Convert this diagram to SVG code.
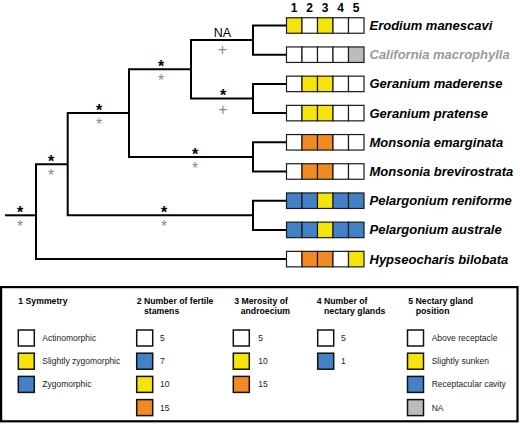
<svg xmlns="http://www.w3.org/2000/svg" width="520" height="424" viewBox="0 0 520 424">
<style>
.br{fill:none;stroke:#000;stroke-width:2;stroke-linejoin:miter}
.bx{stroke:#1a1a1a;stroke-width:1.2}
.W{fill:#fff}.Y{fill:#f4e40a}.B{fill:#4281c6}.O{fill:#f08a22}.G{fill:#bcbcbc}
.sw{stroke:#111;stroke-width:1.5}
.sp{font-family:"Liberation Sans",Arial,sans-serif;font-size:13px;font-weight:bold;font-style:italic;fill:#000}
.hd{font-family:"Liberation Sans",Arial,sans-serif;font-size:12px;font-weight:bold;text-anchor:middle}
.sb{font-family:"Liberation Sans",Arial,sans-serif;font-size:16px;font-weight:bold;text-anchor:middle;fill:#000}
.sg{font-family:"Liberation Sans",Arial,sans-serif;font-size:16px;text-anchor:middle;fill:#8c8c8c}
.na{font-family:"Liberation Sans",Arial,sans-serif;font-size:12.5px;text-anchor:middle;fill:#000}
.lt{font-family:"Liberation Sans",Arial,sans-serif;font-size:8.7px;font-weight:bold;fill:#000}
.ll{font-family:"Liberation Sans",Arial,sans-serif;font-size:8.5px;fill:#222}
</style>
<g id="connectors">
<path class="br" d="M5,215.3 H36"/>
<path class="br" d="M67.7,164.2 H36 V259.1 H286.5"/>
<path class="br" d="M129,113.1 H67.7 V215.3 H253"/>
<path class="br" d="M191,69.3 H129 V156.9 H253"/>
<path class="br" d="M253,40.1 H191 V98.5 H253"/>
<path class="br" d="M286.5,25.5 H253 V54.7 H286.5"/>
<path class="br" d="M286.5,83.9 H253 V113.1 H286.5"/>
<path class="br" d="M286.5,142.3 H253 V171.5 H286.5"/>
<path class="br" d="M286.5,200.7 H253 V229.9 H286.5"/>
</g>
<g id="support">
<text class="na" x="222.5" y="36.7">NA</text>
<text class="sg" x="222.5" y="55.1">+</text>
<text class="sb" x="223" y="101.1">*</text>
<text class="sg" x="223" y="114.6">+</text>
<text class="sb" x="161" y="71.9">*</text>
<text class="sg" x="161" y="85.9">*</text>
<text class="sb" x="195" y="159.5">*</text>
<text class="sg" x="195" y="173.5">*</text>
<text class="sb" x="99" y="115.7">*</text>
<text class="sg" x="99" y="129.7">*</text>
<text class="sb" x="164" y="217.9">*</text>
<text class="sg" x="164" y="231.9">*</text>
<text class="sb" x="51" y="166.8">*</text>
<text class="sg" x="51" y="180.8">*</text>
<text class="sb" x="20" y="217.9">*</text>
<text class="sg" x="20" y="231.9">*</text>
</g>
<g id="header">
<text class="hd" x="294" y="11.7">1</text>
<text class="hd" x="309.5" y="11.7">2</text>
<text class="hd" x="325" y="11.7">3</text>
<text class="hd" x="340.5" y="11.7">4</text>
<text class="hd" x="356" y="11.7">5</text>
</g>
<g id="erodium-manescavi">
<rect class="bx Y" x="286.5" y="17.75" width="15.5" height="15.5"/><rect class="bx W" x="302" y="17.75" width="15.5" height="15.5"/><rect class="bx Y" x="317.5" y="17.75" width="15.5" height="15.5"/><rect class="bx W" x="333" y="17.75" width="15.5" height="15.5"/><rect class="bx W" x="348.5" y="17.75" width="15.5" height="15.5"/>
<text class="sp" x="369.5" y="30">Erodium manescavi</text>
</g>
<g id="california-macrophylla">
<rect class="bx W" x="286.5" y="46.95" width="15.5" height="15.5"/><rect class="bx W" x="302" y="46.95" width="15.5" height="15.5"/><rect class="bx W" x="317.5" y="46.95" width="15.5" height="15.5"/><rect class="bx W" x="333" y="46.95" width="15.5" height="15.5"/><rect class="bx G" x="348.5" y="46.95" width="15.5" height="15.5"/>
<text class="sp" x="369.5" y="59.2" style="fill:#9a9a9a">California macrophylla</text>
</g>
<g id="geranium-maderense">
<rect class="bx W" x="286.5" y="76.15" width="15.5" height="15.5"/><rect class="bx Y" x="302" y="76.15" width="15.5" height="15.5"/><rect class="bx Y" x="317.5" y="76.15" width="15.5" height="15.5"/><rect class="bx W" x="333" y="76.15" width="15.5" height="15.5"/><rect class="bx W" x="348.5" y="76.15" width="15.5" height="15.5"/>
<text class="sp" x="369.5" y="88.4">Geranium maderense</text>
</g>
<g id="geranium-pratense">
<rect class="bx W" x="286.5" y="105.35" width="15.5" height="15.5"/><rect class="bx Y" x="302" y="105.35" width="15.5" height="15.5"/><rect class="bx Y" x="317.5" y="105.35" width="15.5" height="15.5"/><rect class="bx W" x="333" y="105.35" width="15.5" height="15.5"/><rect class="bx W" x="348.5" y="105.35" width="15.5" height="15.5"/>
<text class="sp" x="369.5" y="117.6">Geranium pratense</text>
</g>
<g id="monsonia-emarginata">
<rect class="bx W" x="286.5" y="134.55" width="15.5" height="15.5"/><rect class="bx O" x="302" y="134.55" width="15.5" height="15.5"/><rect class="bx O" x="317.5" y="134.55" width="15.5" height="15.5"/><rect class="bx W" x="333" y="134.55" width="15.5" height="15.5"/><rect class="bx W" x="348.5" y="134.55" width="15.5" height="15.5"/>
<text class="sp" x="369.5" y="146.8">Monsonia emarginata</text>
</g>
<g id="monsonia-brevirostrata">
<rect class="bx W" x="286.5" y="163.75" width="15.5" height="15.5"/><rect class="bx O" x="302" y="163.75" width="15.5" height="15.5"/><rect class="bx O" x="317.5" y="163.75" width="15.5" height="15.5"/><rect class="bx W" x="333" y="163.75" width="15.5" height="15.5"/><rect class="bx W" x="348.5" y="163.75" width="15.5" height="15.5"/>
<text class="sp" x="369.5" y="176">Monsonia brevirostrata</text>
</g>
<g id="pelargonium-reniforme">
<rect class="bx B" x="286.5" y="192.95" width="15.5" height="15.5"/><rect class="bx B" x="302" y="192.95" width="15.5" height="15.5"/><rect class="bx Y" x="317.5" y="192.95" width="15.5" height="15.5"/><rect class="bx B" x="333" y="192.95" width="15.5" height="15.5"/><rect class="bx B" x="348.5" y="192.95" width="15.5" height="15.5"/>
<text class="sp" x="369.5" y="205.2">Pelargonium reniforme</text>
</g>
<g id="pelargonium-australe">
<rect class="bx B" x="286.5" y="222.15" width="15.5" height="15.5"/><rect class="bx B" x="302" y="222.15" width="15.5" height="15.5"/><rect class="bx Y" x="317.5" y="222.15" width="15.5" height="15.5"/><rect class="bx B" x="333" y="222.15" width="15.5" height="15.5"/><rect class="bx B" x="348.5" y="222.15" width="15.5" height="15.5"/>
<text class="sp" x="369.5" y="234.4">Pelargonium australe</text>
</g>
<g id="hypseocharis-bilobata">
<rect class="bx W" x="286.5" y="251.35" width="15.5" height="15.5"/><rect class="bx O" x="302" y="251.35" width="15.5" height="15.5"/><rect class="bx O" x="317.5" y="251.35" width="15.5" height="15.5"/><rect class="bx W" x="333" y="251.35" width="15.5" height="15.5"/><rect class="bx Y" x="348.5" y="251.35" width="15.5" height="15.5"/>
<text class="sp" x="369.5" y="263.6">Hypseocharis bilobata</text>
</g>
<g id="legend">
<rect x="1.1" y="287.1" width="516.4" height="134.2" fill="#fff" stroke="#000" stroke-width="2.2"/>
<g id="legend-1">
<text class="lt" x="18.3" y="304">1 Symmetry</text>
<rect class="sw W" x="18.3" y="330" width="16" height="16"/><text class="ll" x="42.3" y="341">Actinomorphic</text>
<rect class="sw Y" x="18.3" y="353.2" width="16" height="16"/><text class="ll" x="42.3" y="364.2">Slightly zygomorphic</text>
<rect class="sw B" x="18.3" y="376.4" width="16" height="16"/><text class="ll" x="42.3" y="387.4">Zygomorphic</text>
</g>
<g id="legend-2">
<text class="lt" x="136.7" y="304">2 Number of fertile</text>
<text class="lt" x="144" y="314.3">stamens</text>
<rect class="sw W" x="136.7" y="330" width="16" height="16"/><text class="ll" x="160" y="341">5</text>
<rect class="sw B" x="136.7" y="353.2" width="16" height="16"/><text class="ll" x="160" y="364.2">7</text>
<rect class="sw Y" x="136.7" y="376.4" width="16" height="16"/><text class="ll" x="160" y="387.4">10</text>
<rect class="sw O" x="136.7" y="399.6" width="16" height="16"/><text class="ll" x="160" y="410.6">15</text>
</g>
<g id="legend-3">
<text class="lt" x="234.3" y="304">3 Merosity of</text>
<text class="lt" x="240.7" y="314.3">androecium</text>
<rect class="sw W" x="233.3" y="330" width="16" height="16"/><text class="ll" x="258.3" y="341">5</text>
<rect class="sw Y" x="233.3" y="353.2" width="16" height="16"/><text class="ll" x="258.3" y="364.2">10</text>
<rect class="sw O" x="233.3" y="376.4" width="16" height="16"/><text class="ll" x="258.3" y="387.4">15</text>
</g>
<g id="legend-4">
<text class="lt" x="316.7" y="304">4 Number of</text>
<text class="lt" x="324" y="314.3">nectary glands</text>
<rect class="sw W" x="317.7" y="330" width="16" height="16"/><text class="ll" x="341" y="341">5</text>
<rect class="sw B" x="317.7" y="353.2" width="16" height="16"/><text class="ll" x="341" y="364.2">1</text>
</g>
<g id="legend-5">
<text class="lt" x="408.3" y="304">5 Nectary gland</text>
<text class="lt" x="415.7" y="314.3">position</text>
<rect class="sw W" x="407.5" y="330" width="16" height="16"/><text class="ll" x="431.7" y="341">Above receptacle</text>
<rect class="sw Y" x="407.5" y="353.2" width="16" height="16"/><text class="ll" x="431.7" y="364.2">Slightly sunken</text>
<rect class="sw B" x="407.5" y="376.4" width="16" height="16"/><text class="ll" x="431.7" y="387.4">Receptacular cavity</text>
<rect class="sw G" x="407.5" y="399.6" width="16" height="16"/><text class="ll" x="431.7" y="410.6">NA</text>
</g>
</g>
</svg>
